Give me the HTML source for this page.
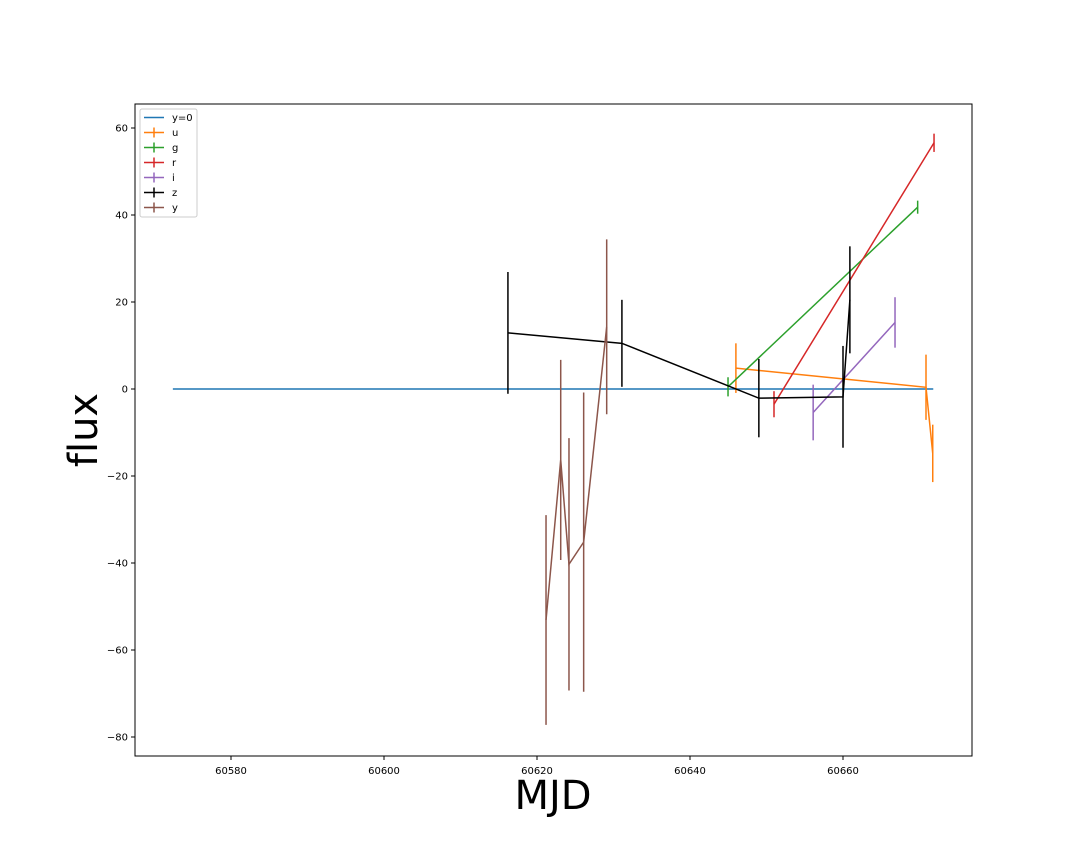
<!DOCTYPE html>
<html><head><meta charset="utf-8"><style>
body{margin:0;background:#fff}
svg{display:block;font-family:"DejaVu Sans","Liberation Sans",sans-serif;font-variant-ligatures:none}
</style></head><body>
<svg id="chart" width="1080" height="864"></svg>
<script>
const xTicks=[60580,60600,60620,60640,60660];
const yTicks=[60,40,20,0,-20,-40,-60,-80];
const zeroLine=[60572.4,60671.8];
const uX=[60646.0,60670.85,60671.73], uY=[4.8,0.4,-14.8], uE=[5.7,7.5,6.6];
const gX=[60644.97,60669.76], gY=[0.5,41.8], gE=[2.2,1.5];
const rX=[60650.98,60671.9], rY=[-3.5,56.6], rE=[3,2.1];
const iX=[60656.1,60666.8], iY=[-5.4,15.3], iE=[6.4,5.8];
const zX=[60616.2,60631.1,60649.0,60660.0,60660.9], zY=[12.9,10.5,-2.1,-1.8,20.5], zE=[14,10,9,11.7,12.3];
const yyX=[60621.18,60623.1,60624.18,60626.1,60629.11], yyY=[-53.1,-16.3,-40.3,-35.2,14.3], yyE=[24.1,23,29,34.4,20.1];
const series=[
 {name:'u',c:'#ff7f0e',x:uX,y:uY,e:uE},
 {name:'g',c:'#2ca02c',x:gX,y:gY,e:gE},
 {name:'r',c:'#d62728',x:rX,y:rY,e:rE},
 {name:'i',c:'#9467bd',x:iX,y:iY,e:iE},
 {name:'z',c:'#000000',x:zX,y:zY,e:zE},
 {name:'y',c:'#8c564b',x:yyX,y:yyY,e:yyE}];
const L=135,R=972,T=104,B=756;
const sx=v=>231+(v-60580)*7.65;
const sy=v=>389-v*4.35;
const NS='http://www.w3.org/2000/svg';
const svg=document.getElementById('chart');
function el(t,a,p){const e=document.createElementNS(NS,t);for(const k in a)e.setAttribute(k,a[k]);(p||svg).appendChild(e);return e;}
const frame=el('rect',{x:L,y:T,width:R-L,height:B-T,fill:'#fff',stroke:'#000','stroke-width':1});


xTicks.forEach(v=>{const x=sx(v);
 const l=el('line',{x1:x,x2:x,y1:B,y2:B+4,stroke:'#000'});
 
 
 const t=el('text',{x:x,y:B+18,'font-size':10,'text-anchor':'middle'});t.textContent=v;
 
 });
yTicks.forEach(v=>{const y=sy(v);
 const l=el('line',{x1:L-4,x2:L,y1:y,y2:y,stroke:'#000'});
 
 
 const t=el('text',{x:L-7,y:y+3.5,'font-size':10,'text-anchor':'end'});t.textContent=v<0?'\u2212'+(-v):v;
 
 });
const xl=el('text',{x:553,y:809,'font-size':40,'text-anchor':'middle'});xl.textContent='MJD';


const yl=el('text',{x:97,y:430,'font-size':40,'text-anchor':'middle',transform:'rotate(-90 97 430)'});yl.textContent='flux';


const z0=el('line',{x1:sx(zeroLine[0]),x2:sx(zeroLine[1]),y1:sy(0),y2:sy(0),stroke:'#1f77b4','stroke-width':1.5});


series.forEach(s=>{
 const g=el('g',{});
 
 
 const pts=s.x.map((v,i)=>sx(v)+','+sy(s.y[i])).join(' ');
 el('polyline',{points:pts,fill:'none',stroke:s.c,'stroke-width':1.5},g);
 s.x.map((v,i)=>{const b=el('line',{x1:sx(v),x2:sx(v),y1:sy(s.y[i]-s.e[i]),y2:sy(s.y[i]+s.e[i]),stroke:s.c,'stroke-width':1.5},g);
  
  });
});
const lg=el('g',{});


el('rect',{x:140,y:109,width:57,height:108,rx:2,fill:'#fff',stroke:'#ccc'},lg);
const ents=[{name:'y=0',c:'#1f77b4',bar:false}].concat(series.map(s=>({name:s.name,c:s.c,bar:true})));
ents.forEach((e,i)=>{const y=117.5+i*15;
 const g=el('g',{},lg);
 
 
 el('line',{x1:144,x2:164,y1:y,y2:y,stroke:e.c,'stroke-width':1.5},g);
 if(e.bar)el('line',{x1:154,x2:154,y1:y-5,y2:y+5,stroke:e.c,'stroke-width':1.5},g);
 const t=el('text',{x:172,y:y+3.5,'font-size':10},g);t.textContent=e.name;});
</script>
</body></html>
